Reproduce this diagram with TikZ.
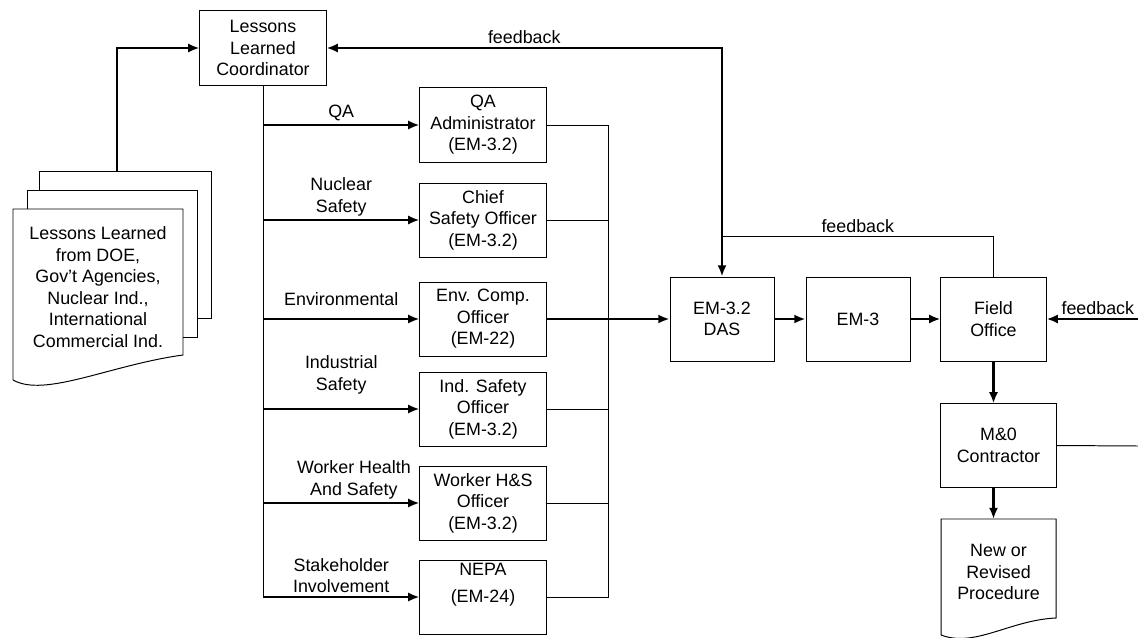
\documentclass[tikz,border=0pt]{standalone}
\usepackage{fontspec}
\setmainfont{Liberation Sans}
\usetikzlibrary{arrows.meta}

\begin{document}
\begin{tikzpicture}[>={Latex[length=8pt,width=6.5pt]}, x=0.025cm, y=-0.025cm, line width=0.7pt]

\tikzset{
    unit box/.style={
        draw, rectangle, line width=0.7pt,
        minimum width=#1, minimum height=1.85cm,
        inner sep=1pt, align=center,
        font=\fontsize{12.7}{15.3}\selectfont
    },
    unit box/.default=3.15cm,
    flow/.style={->, line width=1.6pt},
    link/.style={line width=0.7pt},
    tag/.style={font=\fontsize{12.7}{15.3}\selectfont, align=center, inner sep=2pt}
}

\useasboundingbox (0,0) rectangle (1138,638);
\clip (0,0) rectangle (1138,638);

% Coordinator
\node[unit box] (LLC) at (263,48) {Lessons\\Learned\\Coordinator};

% Program offices
\node[unit box] (QA) at (483,125) {QA\\Administrator\\(EM-3.2)};
\node[unit box] (CSO) at (483,220) {Chief\\Safety Officer\\(EM-3.2)};
\node[unit box] (ENV) at (483,319) {Env. Comp.\\Officer\\(EM-22)};
\node[unit box] (ISO) at (483,409) {Ind. Safety\\Officer\\(EM-3.2)};
\node[unit box] (WHS) at (483,503) {Worker H\&S\\Officer\\(EM-3.2)};
\node[unit box] (NEPA) at (483,597) {NEPA\\[4pt](EM-24)\\\strut};

% Line management
\node[unit box=2.6cm, minimum height=2.1cm] (DAS) at (722,319) {EM-3.2\\DAS};
\node[unit box=2.6cm, minimum height=2.1cm] (EM3) at (858,319) {EM-3};
\node[unit box=2.63cm, minimum height=2.1cm] (FO) at (993.5,319) {Field\\Office};
\node[unit box=2.88cm, minimum height=2.08cm] (MO) at (998.5,445.5) {M\&0\\Contractor};

% Lessons learned documents (stacked)
\draw[link] (39,190) -- (39,171) -- (211,171) -- (211,318) -- (197,318);
\draw[link] (27,209) -- (27,190) -- (197,190) -- (197,337) -- (183,337);
\draw[link] (13,380) -- (13,209) -- (183,209) -- (183,355)
    .. controls (110,365) and (45,398) .. (13,380);
\node[tag] (lessons) at (98,287) {Lessons Learned\\from DOE,\\Gov't Agencies,\\Nuclear Ind.,\\International\\Commercial Ind.};
\coordinate (stacktop) at (117,171);

% New procedure document
\draw[link] (941,635) -- (941,519) -- (1056,519) -- (1056,618)
    .. controls (1010,620) and (975,648) .. (941,635);
\node[tag] (newproc) at (998.5,572) {New or\\Revised\\Procedure};
\coordinate (nptop) at (998.5,519);

% Free ends and joints
\coordinate (bus) at (608,0);
\coordinate (fbjoin) at (722,236);
\coordinate (fbin) at (1138,319);
\coordinate (mout) at (1138,446);

% --- CONNECTIONS ---
\draw[flow] (stacktop) |- (LLC.west);
\draw[flow, <->] (LLC.east) -| (DAS.north) node[pos=0.25, above, tag] {feedback};

% Distribution to offices
\draw[link] (LLC.south) -- (LLC.south |- NEPA.west);
\draw[flow] (LLC.south |- QA.west) -- (QA.west) node[midway, above, tag] {QA};
\draw[flow] (LLC.south |- CSO.west) -- (CSO.west) node[midway, above, tag] {Nuclear\\Safety};
\draw[flow] (LLC.south |- ENV.west) -- (ENV.west) node[midway, above=7pt, tag] {Environmental};
\draw[flow] (LLC.south |- ISO.west) -- (ISO.west) node[midway, above=8pt, tag] {Industrial\\Safety};
\draw[flow] (LLC.south |- WHS.west) -- (WHS.west) node[midway, above, xshift=9pt, tag] {Worker Health\\And Safety};
\draw[flow] (LLC.south |- NEPA.west) -- (NEPA.west) node[midway, above, tag] {Stakeholder\\Involvement};

% Collection bus
\draw[link] (QA.east) -- (QA.east -| bus) -- (NEPA.east -| bus) -- (NEPA.east);
\draw[link] (CSO.east) -- (CSO.east -| bus);
\draw[link] (ISO.east) -- (ISO.east -| bus);
\draw[link] (WHS.east) -- (WHS.east -| bus);
\draw[flow] (ENV.east) -- (DAS.west);

% Line management chain
\draw[flow] (DAS) -- (EM3);
\draw[flow] (EM3) -- (FO);
\draw[link] (FO.north) |- (fbjoin) node[pos=0.75, above, tag] {feedback};
\draw[flow] (fbin) -- (FO.east) node[pos=0, anchor=south east, inner sep=1.5pt, tag] {feedback};
\draw[flow] (FO.south) -- (FO.south |- MO.north);
\draw[flow] (FO.south |- MO.south) -- (FO.south |- nptop);
\draw[link] (MO.east) -- (mout);

\end{tikzpicture}
\end{document}
